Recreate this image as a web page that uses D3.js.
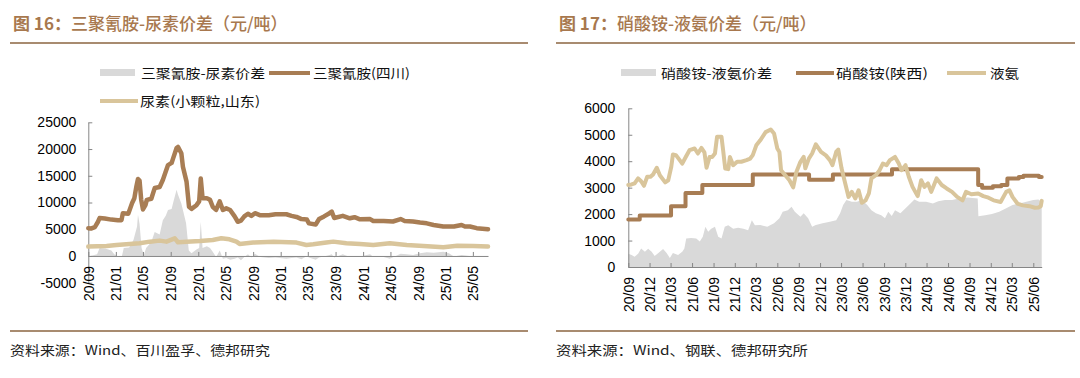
<!DOCTYPE html>
<html><head><meta charset="utf-8">
<script src="https://cdn.jsdelivr.net/npm/d3@7/dist/d3.min.js"></script>
<style>
html,body{margin:0;padding:0;background:#fff;}
svg{display:block;}
</style></head>
<body>
<script>
// ---------- Chart 16 data ----------
const leftTickLabels = ["2020-09-01","2021-01-01","2021-05-01","2021-09-01","2022-01-01","2022-05-01","2022-09-01","2023-01-01","2023-05-01","2023-09-01","2024-01-01","2024-05-01","2024-09-01","2025-01-01","2025-05-01"];
const leftYTicks = [-5000,0,5000,10000,15000,20000,25000];
const melamine = [
["2020-09-01",5200],["2020-09-15",5150],["2020-09-30",5400],["2020-10-14",6400],["2020-10-21",7100],["2020-11-13",7000],["2020-12-12",6800],["2021-01-10",6700],["2021-01-26",6700],
["2021-02-01",8000],["2021-02-25",7900],["2021-03-03",8600],["2021-03-14",9900],["2021-03-24",10800],["2021-04-02",13000],["2021-04-09",14400],["2021-04-16",14100],["2021-04-23",10600],
["2021-05-01",8700],["2021-05-12",9500],["2021-05-18",10500],["2021-06-07",10700],["2021-06-22",12700],["2021-07-14",12900],["2021-07-28",14200],["2021-08-10",15800],["2021-08-20",17000],
["2021-09-05",17400],["2021-09-12",18300],["2021-09-27",20200],["2021-10-03",20400],["2021-10-18",19200],["2021-10-25",16700],["2021-11-10",13900],["2021-11-21",9200],["2021-12-02",8800],
["2021-12-24",9500],["2022-01-05",10200],["2022-01-12",14500],["2022-01-20",10800],["2022-02-08",10800],["2022-02-22",10500],["2022-03-06",9200],["2022-03-21",8600],["2022-04-06",10200],
["2022-04-20",8600],["2022-05-05",8900],["2022-05-22",8600],["2022-06-11",7400],["2022-06-25",6400],["2022-07-09",6600],["2022-07-24",7400],["2022-08-09",7900],["2022-08-24",7500],
["2022-09-09",8000],["2022-10-03",7600],["2022-11-09",7600],["2022-12-09",7800],["2023-01-26",7800],["2023-02-18",7500],["2023-03-12",7300],["2023-04-03",6900],["2023-04-27",6800],
["2023-05-06",6100],["2023-06-05",5900],["2023-06-20",6900],["2023-07-12",7400],["2023-08-05",8000],["2023-08-15",8300],["2023-08-26",7100],["2023-10-03",7500],["2023-11-03",7050],
["2023-11-24",7250],["2023-12-18",6850],["2024-02-01",6900],["2024-02-15",6550],["2024-04-01",6550],["2024-05-12",6450],["2024-06-15",6900],["2024-07-03",6550],["2024-08-09",6450],
["2024-09-09",6250],["2024-10-09",6100],["2024-11-08",5800],["2024-12-21",5500],["2025-02-06",5500],["2025-03-12",5800],["2025-03-27",5500],["2025-04-18",5500],["2025-05-18",5200],["2025-07-07",5000]
];
const urea = [
["2020-09-01",1750],["2020-11-21",1870],["2021-01-04",2060],["2021-03-03",2240],["2021-04-16",2370],["2021-06-01",2680],["2021-07-14",2870],["2021-08-13",2680],["2021-09-19",3300],
["2021-10-03",2560],["2021-11-10",2680],["2022-01-09",2800],["2022-03-06",3000],["2022-04-13",3300],["2022-05-19",3120],["2022-06-19",2680],["2022-07-03",2250],["2022-09-01",2500],
["2022-12-01",2680],["2023-03-12",2500],["2023-04-25",2060],["2023-05-25",2180],["2023-07-22",2500],["2023-08-22",2680],["2023-10-19",2370],["2023-12-18",2250],["2024-02-15",2060],
["2024-04-28",2370],["2024-07-12",2060],["2024-09-24",1870],["2024-12-21",1620],["2025-02-21",1930],["2025-05-03",1870],["2025-07-07",1750]
];
const spreadLeft = [
["2020-09-01",-100],["2020-10-10",300],["2020-10-21",1500],["2020-11-15",1400],["2020-12-12",1000],["2020-12-25",300],["2021-01-15",-200],["2021-01-28",0],["2021-02-05",1500],
["2021-03-01",1600],["2021-03-20",3000],["2021-04-05",5500],["2021-04-09",7700],["2021-04-16",6000],["2021-04-25",1500],["2021-05-05",200],["2021-05-15",1500],["2021-06-07",2600],
["2021-06-22",4500],["2021-07-14",4000],["2021-07-28",6700],["2021-08-10",7500],["2021-08-20",8600],["2021-09-05",8800],["2021-09-12",10000],["2021-09-27",12400],["2021-10-03",11500],
["2021-10-18",9800],["2021-10-25",8600],["2021-11-08",6100],["2021-11-20",1000],["2021-12-02",500],["2021-12-24",1200],["2022-01-05",1500],["2022-01-12",6400],["2022-01-20",1500],
["2022-02-08",1800],["2022-02-22",1500],["2022-03-06",800],["2022-03-21",-200],["2022-04-06",1000],["2022-04-20",-500],["2022-05-05",-400],["2022-05-22",-700],["2022-06-11",-500],
["2022-06-25",-300],["2022-07-09",-800],["2022-07-24",-200],["2022-08-09",300],["2022-08-24",-300],["2022-09-09",400],["2022-10-03",-200],["2022-11-09",-400],["2022-12-09",-300],
["2023-01-26",-500],["2023-02-18",-400],["2023-03-12",-300],["2023-04-03",-600],["2023-04-27",0],["2023-05-06",-300],["2023-06-05",-700],["2023-06-20",-300],["2023-07-12",-100],
["2023-08-05",200],["2023-08-15",300],["2023-08-26",-300],["2023-10-03",300],["2023-11-03",-200],["2023-12-18",-100],["2024-02-01",300],["2024-02-15",-200],["2024-04-01",-200],
["2024-04-28",-500],["2024-06-15",400],["2024-07-12",300],["2024-08-09",200],["2024-09-09",500],["2024-10-09",700],["2024-11-08",600],["2024-12-21",800],["2025-01-15",500],
["2025-02-06",-100],["2025-03-12",200],["2025-05-03",-100],["2025-07-07",-200]
];

// ---------- Chart 17 data ----------
const rightTickLabels = ["2020-09-01","2020-12-01","2021-03-01","2021-06-01","2021-09-01","2021-12-01","2022-03-01","2022-06-01","2022-09-01","2022-12-01","2023-03-01","2023-06-01","2023-09-01","2023-12-01","2024-03-01","2024-06-01","2024-09-01","2024-12-01","2025-03-01","2025-06-01"];
const rightYTicks = [0,1000,2000,3000,4000,5000,6000];
const ammoniumNitrate = [
["2020-09-01",1800],["2020-10-20",1950],["2021-03-03",2300],["2021-05-04",2800],["2021-07-15",3100],["2022-02-16",3500],["2022-10-15",3300],["2023-01-25",3500],["2023-10-05",3700],
["2024-10-08",3100],["2024-10-25",3000],["2024-12-10",3050],["2025-01-15",3100],["2025-02-10",3350],["2025-03-31",3400],["2025-04-20",3450],["2025-06-25",3400],["2025-07-07",3400]
];
const liquidAmmonia = [
["2020-09-01",3100],["2020-09-15",3120],["2020-09-28",3160],["2020-10-13",3350],["2020-10-26",3240],["2020-11-07",3070],["2020-11-21",3410],["2020-12-05",3410],["2020-12-16",3500],
["2021-01-01",3750],["2021-01-14",3470],["2021-02-06",3200],["2021-02-19",3280],["2021-03-04",3790],["2021-03-11",4250],["2021-03-24",4230],["2021-04-09",4040],["2021-04-20",3910],
["2021-05-05",4160],["2021-05-21",4415],["2021-06-12",4480],["2021-06-26",4290],["2021-07-11",4500],["2021-07-24",4330],["2021-08-02",3750],["2021-08-15",4160],["2021-08-26",4160],
["2021-09-07",4290],["2021-09-16",4920],["2021-10-05",4920],["2021-10-12",4415],["2021-10-21",3720],["2021-11-03",3700],["2021-11-10",4160],["2021-11-24",3850],["2021-12-11",3980],
["2021-12-29",3980],["2022-01-20",4040],["2022-02-05",4100],["2022-02-16",4230],["2022-03-03",4600],["2022-03-20",4790],["2022-04-12",5100],["2022-05-04",5200],["2022-05-18",5050],
["2022-06-01",4480],["2022-06-10",4350],["2022-06-17",3660],["2022-07-05",3470],["2022-07-23",3280],["2022-08-08",3010],["2022-08-22",3600],["2022-09-08",3975],["2022-09-22",4160],
["2022-09-29",3730],["2022-10-14",4100],["2022-10-28",4290],["2022-11-13",4640],["2022-12-05",4350],["2022-12-26",4220],["2023-01-12",4040],["2023-01-23",3850],["2023-02-08",4350],
["2023-02-17",4440],["2023-03-03",3730],["2023-03-17",3220],["2023-04-02",2650],["2023-04-16",2840],["2023-05-01",2590],["2023-05-15",2900],["2023-05-29",2430],["2023-06-14",2520],
["2023-06-28",2780],["2023-07-09",3350],["2023-07-28",3470],["2023-08-13",3660],["2023-08-27",3910],["2023-09-12",3850],["2023-09-26",4040],["2023-10-18",4160],["2023-11-03",3910],
["2023-11-15",3660],["2023-12-02",3850],["2023-12-16",3410],["2024-01-01",3030],["2024-01-23",2680],["2024-02-07",3280],["2024-02-21",3030],["2024-03-07",3160],["2024-03-21",2840],
["2024-04-13",3350],["2024-05-05",3100],["2024-05-26",2970],["2024-06-18",2840],["2024-07-10",2650],["2024-08-02",2520],["2024-08-17",2840],["2024-09-09",2750],["2024-10-08",2780],
["2024-10-30",2680],["2024-11-21",2620],["2024-12-13",2520],["2025-01-12",2460],["2025-02-05",2840],["2025-02-19",2900],["2025-03-04",2650],["2025-03-25",2400],["2025-04-17",2330],
["2025-05-16",2300],["2025-06-08",2240],["2025-06-23",2250],["2025-07-03",2300],["2025-07-07",2500]
];
const spreadRight = [
["2020-09-01",500],["2020-09-15",450],["2020-09-28",390],["2020-10-13",500],["2020-10-26",700],["2020-11-11",580],["2020-11-25",690],["2020-12-10",580],["2020-12-23",420],
["2021-01-14",580],["2021-01-28",680],["2021-02-12",530],["2021-02-26",340],["2021-03-11",530],["2021-04-02",450],["2021-04-20",580],["2021-04-29",700],["2021-05-07",1080],
["2021-05-28",1100],["2021-06-19",1080],["2021-07-04",960],["2021-07-17",1140],["2021-07-28",1520],["2021-08-09",1330],["2021-08-22",1450],["2021-09-07",1520],["2021-09-21",1140],
["2021-10-05",1080],["2021-10-19",1520],["2021-11-03",1580],["2021-11-24",1450],["2021-12-15",1480],["2022-01-07",1450],["2022-01-27",1390],["2022-02-12",1770],["2022-02-25",1580],
["2022-03-20",1585],["2022-04-19",1520],["2022-05-18",1650],["2022-06-10",1840],["2022-06-24",2090],["2022-07-16",2150],["2022-08-01",2280],["2022-08-15",2090],["2022-09-08",1900],
["2022-09-22",2030],["2022-10-11",1840],["2022-10-28",1520],["2022-11-13",1585],["2022-12-12",1650],["2023-01-12",1710],["2023-02-08",1770],["2023-02-25",2030],["2023-03-10",2340],
["2023-03-24",2530],["2023-04-16",2470],["2023-05-08",2470],["2023-05-29",2530],["2023-06-21",2340],["2023-07-09",2150],["2023-07-28",2030],["2023-08-20",1960],["2023-09-05",1840],
["2023-09-19",2090],["2023-10-04",1930],["2023-10-18",2150],["2023-11-10",2030],["2023-12-02",2220],["2023-12-23",2400],["2024-01-09",2550],["2024-01-29",2470],["2024-02-28",2470],
["2024-03-28",2400],["2024-04-20",2490],["2024-05-19",2530],["2024-06-18",2530],["2024-07-18",2590],["2024-08-24",2630],["2024-10-06",2590],["2024-10-09",1920],["2024-11-07",1960],
["2024-12-06",2000],["2025-01-06",2090],["2025-02-05",2220],["2025-03-04",2340],["2025-04-03",2400],["2025-05-02",2470],["2025-06-01",2530],["2025-06-23",2550],["2025-07-07",2450]
];

// ---------- Text ----------
const leftTitleBold = "图 16：", leftTitleRest = "三聚氰胺-尿素价差（元/吨）";
const rightTitleBold = "图 17：", rightTitleRest = "硝酸铵-液氨价差（元/吨）";
const leftLegend = ["三聚氰胺-尿素价差","三聚氰胺(四川)","尿素(小颗粒,山东)"];
const rightLegend = ["硝酸铵-液氨价差","硝酸铵(陕西)","液氨"];
const leftSource = "资料来源：Wind、百川盈孚、德邦研究";
const rightSource = "资料来源：Wind、钢联、德邦研究所";

// ---------- Styles ----------
const BROWN = "#A87D54", TAN = "#D9C59B", GRAY = "#D9D9D9", TITLE = "#A8784E", RULE = "#A88B70";
const CJK = "'Noto Sans CJK SC', sans-serif", LAT = "'Liberation Sans', Arial, sans-serif";

const parse = d3.timeParse("%Y-%m-%d");
const fmt = d3.timeFormat("%y/%m");
const svg = d3.select("body").append("svg").attr("width",1080).attr("height",378);

function header(x0, x1, bold, rest, src, srcLen){
  const t = svg.append("text").attr("x", x0+3).attr("y", 30).attr("fill", TITLE)
    .style("font-family", CJK).style("font-size","17px");
  t.append("tspan").attr("font-weight","bold").text(bold);
  t.append("tspan").attr("font-weight","500").text(rest);
  svg.append("line").attr("x1",x0).attr("x2",x1).attr("y1",43).attr("y2",43).attr("stroke",RULE).attr("stroke-width",2);
  svg.append("line").attr("x1",x0).attr("x2",x1).attr("y1",331).attr("y2",331).attr("stroke",RULE).attr("stroke-width",2);
  svg.append("text").attr("x",x0).attr("y",355).attr("fill","#222")
    .style("font-family",CJK).style("font-size","13px")
    .attr("textLength",srcLen).attr("lengthAdjust","spacingAndGlyphs").text(src);
}
header(10, 528, leftTitleBold, leftTitleRest, leftSource, 260);
header(556, 1075, rightTitleBold, rightTitleRest, rightSource, 252);

function legendItem(type, x, y, w, color, label, tx, tlen){
  if(type==="rect") svg.append("rect").attr("x",x).attr("y",y-4).attr("width",w).attr("height",7).attr("fill",color);
  else svg.append("line").attr("x1",x).attr("x2",x+w).attr("y1",y).attr("y2",y).attr("stroke",color).attr("stroke-width",4);
  const t = svg.append("text").attr("x",tx).attr("y",y).attr("dy","0.36em").attr("fill","#111")
    .style("font-family",CJK).style("font-size","13px").text(label);
  if(tlen) t.attr("textLength",tlen).attr("lengthAdjust","spacingAndGlyphs");
}
legendItem("rect",100,73,35,GRAY,leftLegend[0],141,124);
legendItem("line",269,73,41,BROWN,leftLegend[1],313,97);
legendItem("line",100,101,38,TAN,leftLegend[2],140,120);
legendItem("rect",621,73,35,GRAY,rightLegend[0],661,111);
legendItem("line",796,73,38,BROWN,rightLegend[1],836,92);
legendItem("line",947,73,39,TAN,rightLegend[2],990,29);

function chart(opt){
  const x = d3.scaleTime().domain([parse("2020-09-01"), parse("2025-07-07")]).range(opt.xr);
  const y = d3.scaleLinear().domain(opt.yd).range(opt.yr);
  const g = svg.append("g");
  const area = d3.area().x(d=>x(parse(d[0]))).y0(y(0)).y1(d=>y(d[1]));
  g.append("path").datum(opt.spread).attr("d",area).attr("fill",GRAY);
  const ya = g.append("g").attr("transform",`translate(${opt.xr[0]},0)`)
    .call(d3.axisLeft(y).tickValues(opt.yTicks).tickSizeInner(-4).tickSizeOuter(0).tickPadding(opt.ypad).tickFormat(d=>String(d)));
  const xa = g.append("g").attr("transform",`translate(0,${y(0)})`)
    .call(d3.axisBottom(x).tickValues(opt.xTicks.map(parse)).tickSizeInner(-4).tickSizeOuter(0).tickFormat(fmt));
  [ya,xa].forEach(a=>{
    a.select(".domain").attr("stroke","#868686");
    a.selectAll(".tick line").attr("stroke","#868686");
    a.selectAll("text").attr("fill","#000").style("font-family",LAT).style("font-size","14px");
  });
  xa.selectAll("text").attr("transform","rotate(-90)").attr("text-anchor","end")
    .attr("x",-10).attr("y",0).attr("dy","0.36em");
  const line = d3.line().x(d=>x(parse(d[0]))).y(d=>y(d[1]));
  opt.lines.forEach(l=>{
    g.append("path").attr("d", l.step ? line.curve(d3.curveStepAfter)(l.data) : line.curve(d3.curveLinear)(l.data))
      .attr("fill","none").attr("stroke",l.color).attr("stroke-width",l.w).attr("stroke-linejoin","round").attr("stroke-linecap","round");
  });
}

chart({xr:[88.3,488], yd:[-5000,25000], yr:[282.7,122.3], yTicks:leftYTicks, xTicks:leftTickLabels, ypad:12,
  spread:spreadLeft, lines:[{data:urea,color:TAN,w:4.5},{data:melamine,color:BROWN,w:4.5}]});
chart({xr:[628.3,1041.7], yd:[0,6000], yr:[267,108.3], yTicks:rightYTicks, xTicks:rightTickLabels, ypad:13,
  spread:spreadRight, lines:[{data:ammoniumNitrate,color:BROWN,w:4,step:true},{data:liquidAmmonia,color:TAN,w:4}]});
</script>
</body></html>
